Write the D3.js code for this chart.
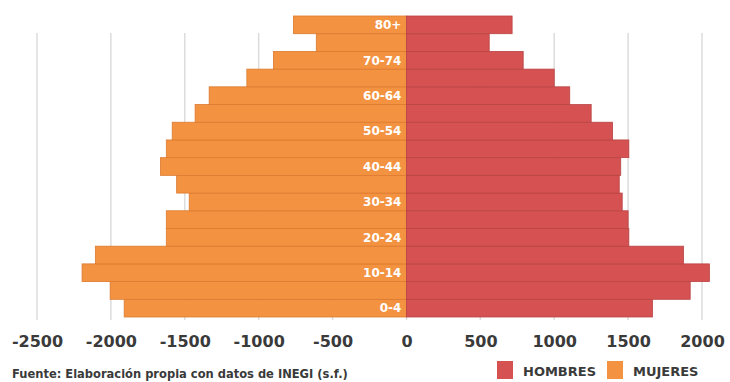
<!DOCTYPE html>
<html>
<head>
<meta charset="utf-8">
<script src="https://cdn.jsdelivr.net/npm/d3@7"></script>
<style>
  html, body { margin: 0; padding: 0; background: #ffffff; }
  svg { display: block; }
</style>
</head>
<body>
<svg id="chart" width="730" height="382"></svg>
<script>
// ---- data ----
const ageGroups = ["0-4","5-9","10-14","15-19","20-24","25-29","30-34","35-39","40-44","45-49","50-54","55-59","60-64","65-69","70-74","75-79","80+"];
const mujeres = [1910, 2005, 2195, 2105, 1625, 1625, 1470, 1555, 1665, 1625, 1585, 1430, 1335, 1080, 900, 610, 765];
const hombres = [1665, 1920, 2050, 1875, 1505, 1500, 1460, 1440, 1450, 1505, 1395, 1250, 1105, 1000, 790, 560, 715];
const tickValues = [-2500, -2000, -1500, -1000, -500, 0, 500, 1000, 1500, 2000];
const legendLabels = ["HOMBRES", "MUJERES"];
const sourceText = "Fuente: Elaboración propia con datos de INEGI (s.f.)";

// ---- style ----
const colHombres = "#d65151";
const colMujeres = "#f39341";
const strokeHombres = "#b94444";
const strokeMujeres = "#dc7a30";
const textColor = "#3a3a3a";
const fontFam = "'DejaVu Sans', sans-serif";

const svg = d3.select("#chart");

const x = d3.scaleLinear().domain([-2500, 2000]).range([37, 702]);
const y = d3.scaleBand().domain(ageGroups.slice().reverse()).range([16, 317]).padding(0);

// gridlines
svg.append("g").selectAll("line").data(tickValues).join("line")
  .attr("x1", d => x(d)).attr("x2", d => x(d))
  .attr("y1", 33).attr("y2", 320)
  .attr("stroke", "#dcdcdc").attr("stroke-width", 1.5);

const rows = ageGroups.map((a, i) => ({age: a, m: mujeres[i], h: hombres[i], i}));

// women bars (left)
svg.append("g").selectAll("rect").data(rows).join("rect")
  .attr("x", d => x(-d.m))
  .attr("y", d => y(d.age))
  .attr("width", d => x(0) - x(-d.m))
  .attr("height", y.bandwidth())
  .attr("fill", colMujeres)
  .attr("stroke", strokeMujeres).attr("stroke-width", 0.8);

// men bars (right)
svg.append("g").selectAll("rect").data(rows).join("rect")
  .attr("x", x(0))
  .attr("y", d => y(d.age))
  .attr("width", d => x(d.h) - x(0))
  .attr("height", y.bandwidth())
  .attr("fill", colHombres)
  .attr("stroke", strokeHombres).attr("stroke-width", 0.8);

// age labels
svg.append("g").selectAll("text").data(rows.filter(d => d.i % 2 === 0)).join("text")
  .attr("x", x(0) - 5)
  .attr("y", d => y(d.age) + y.bandwidth() / 2)
  .attr("dy", "0.36em")
  .attr("text-anchor", "end")
  .attr("font-family", fontFam)
  .attr("font-weight", "bold")
  .attr("font-size", 12)
  .attr("fill", "#ffffff")
  .text(d => d.age);

// x axis
const axis = d3.axisBottom(x).tickValues(tickValues).tickSize(0).tickPadding(0).tickFormat(d3.format("d"));
const ax = svg.append("g").attr("transform", "translate(0,336)").call(axis);
ax.select(".domain").remove();
ax.selectAll("text")
  .attr("font-family", fontFam)
  .attr("font-weight", "bold")
  .attr("font-size", 16)
  .attr("fill", textColor)
  .attr("dy", "0.71em")
  .text(d => d < 0 ? "-" + Math.abs(d) : String(d));

// source
const src = svg.append("text")
  .attr("x", 12).attr("y", 378)
  .attr("font-family", fontFam)
  .attr("font-weight", "bold")
  .attr("font-size", 12.5)
  .attr("fill", textColor)
  .text(sourceText);
const w = src.node().getComputedTextLength();
src.attr("font-size", 12.5 * 336 / w);

// legend
const legendColors = [colHombres, colMujeres];
const legendX = [497, 607];
const legendWidths = [75, 77];
legendLabels.forEach((lab, i) => {
  svg.append("rect")
    .attr("x", legendX[i]).attr("y", 361)
    .attr("width", 16).attr("height", 18)
    .attr("fill", legendColors[i]);
  const t = svg.append("text")
    .attr("x", legendX[i] + 26).attr("y", 376)
    .attr("font-family", fontFam)
    .attr("font-weight", "bold")
    .attr("font-size", 12)
    .attr("fill", textColor)
    .text(lab);
  const tw = t.node().getComputedTextLength();
  t.attr("font-size", Math.min(13, 12 * legendWidths[i] / tw));
});
</script>
</body>
</html>
